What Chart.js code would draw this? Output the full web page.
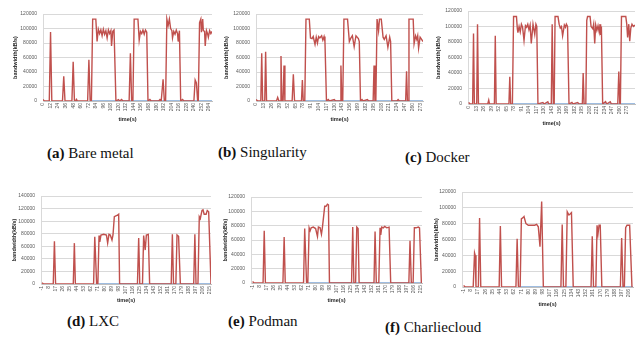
<!DOCTYPE html>
<html>
<head>
<meta charset="utf-8">
<script src="https://cdn.jsdelivr.net/npm/chart.js@4.4.0/dist/chart.umd.min.js"></script>
<style>
  body { margin: 0; width: 640px; height: 348px; background: #fff; position: relative; overflow: hidden; }
  canvas { position: absolute; }
  .cap { position: absolute; font-family: "Liberation Serif", "DejaVu Serif", serif; font-size: 15px; line-height: 16px; color: #111; white-space: nowrap; }
</style>
</head>
<body>
<div class="cap" style="left:47px;top:145px"><b>(a)</b> Bare metal</div>
<div class="cap" style="left:218px;top:144px"><b>(b)</b> Singularity</div>
<div class="cap" style="left:405px;top:149px"><b>(c)</b> Docker</div>
<div class="cap" style="left:67px;top:313px"><b>(d)</b> LXC</div>
<div class="cap" style="left:228px;top:313px"><b>(e)</b> Podman</div>
<div class="cap" style="left:385px;top:319px"><b>(f)</b> Charliecloud</div>
<canvas id="chartA"></canvas>
<canvas id="chartB"></canvas>
<canvas id="chartC"></canvas>
<canvas id="chartD"></canvas>
<canvas id="chartE"></canvas>
<canvas id="chartF"></canvas>
<script>
// tick labels
var ticksA = [0, 12, 24, 36, 48, 60, 72, 84, 96, 108, 120, 132, 144, 156, 168, 180, 192, 204, 216, 228, 240, 252, 264];
var ticksB = [0, 13, 26, 39, 52, 65, 78, 91, 104, 117, 130, 143, 156, 169, 182, 195, 208, 221, 234, 247, 260, 273];
var ticksC = [0, 13, 26, 39, 52, 65, 78, 91, 104, 117, 130, 143, 156, 169, 182, 195, 208, 221, 234, 247, 260, 273];
var ticksD = [-1, 8, 17, 26, 35, 44, 53, 62, 71, 80, 89, 98, 107, 116, 125, 134, 143, 152, 161, 170, 179, 188, 197, 206, 215];
var ticksE = [-1, 8, 17, 26, 35, 44, 53, 62, 71, 80, 89, 98, 107, 116, 125, 134, 143, 152, 161, 170, 179, 188, 197, 206, 215];
var ticksF = [-1, 8, 17, 26, 35, 44, 53, 62, 71, 80, 89, 98, 107, 116, 125, 134, 143, 152, 161, 170, 179, 188, 197, 206];
var yTicks120 = [0, 20000, 40000, 60000, 80000, 100000, 120000];
var yTicks140 = [0, 20000, 40000, 60000, 80000, 100000, 120000, 140000];

// (a) Bare metal
var timeA = [0, 2, 10, 12, 14, 31, 33, 35, 46, 48, 50, 52, 53, 54, 71, 73, 75, 77, 79, 84,
  86, 88, 90, 92, 94, 96, 98, 100, 102, 104, 106, 108, 109, 111, 113, 116, 120, 122, 125, 127,
  137, 139, 141, 143, 145, 151, 153, 155, 157, 159, 161, 163, 165, 167, 170, 172, 184, 186, 188, 189,
  191, 193, 195, 197, 199, 201, 203, 205, 206, 208, 210, 212, 214, 215, 217, 219, 222, 224, 240, 242,
  244, 246, 247, 249, 251, 252, 254, 255, 257, 258, 260, 262, 263, 265, 267, 269];
var bwA = [2000, 0, 0, 95000, 0, 0, 34000, 0, 0, 54000, 0, 0, 2000, 0, 0, 57000, 0, 0, 113000, 113000,
  82000, 99000, 93000, 98000, 90000, 99000, 92000, 97000, 87000, 98000, 93000, 97000, 76000, 96000, 98000, 0, 2000, 0, 2000, 0,
  0, 66000, 0, 0, 113000, 113000, 84000, 96000, 93000, 98000, 92000, 98000, 95000, 0, 2000, 0, 0, 2000, 0, 0,
  30000, 0, 0, 113000, 104000, 113000, 100000, 97000, 87000, 96000, 92000, 98000, 93000, 82000, 97000, 0, 2000, 0, 0, 29000,
  25000, 0, 0, 108000, 113000, 95000, 113000, 97000, 96000, 76000, 97000, 92000, 88000, 97000, 93000, 96000];
var idleA = [77, 269];

// (b) Singularity
var timeB = [0, 3, 8, 9.5, 11, 14.5, 16, 17.5, 34, 36, 38, 40, 41.5, 43, 45, 46.5, 48, 60, 62, 64,
  75.5, 77, 78.5, 81, 83, 88.5, 90.5, 93, 95, 98, 100, 102, 104, 106, 109, 111, 113, 114.5, 117, 120,
  122, 130, 132, 139.5, 141, 142.5, 144, 146, 152, 155, 157, 160, 163, 166, 170, 171.5, 173.5, 176, 178, 185,
  187, 194.5, 196, 197.5, 199, 201, 203.5, 205, 208, 211, 213, 216, 219, 222, 223.5, 225.5, 234, 236, 238, 248.5,
  250, 251.5, 252.5, 254, 261, 262.5, 265, 267, 268.5, 270, 272.5, 275, 277.3];
var bwB = [2000, 0, 0, 66000, 0, 0, 68000, 0, 0, 5000, 0, 0, 62000, 0, 0, 49000, 0, 0, 37000, 0,
  0, 29000, 0, 0, 113000, 113000, 87000, 86000, 89000, 78000, 88000, 80000, 89000, 87000, 90000, 84000, 89000, 82000, 0, 2000,
  0, 2000, 0, 0, 49000, 0, 0, 113000, 113000, 82000, 86000, 90000, 75000, 90000, 86000, 82000, 0, 2000, 0, 2000,
  0, 0, 49000, 0, 0, 113000, 97000, 113000, 113000, 88000, 85000, 90000, 74000, 88000, 82000, 0, 0, 2000, 0, 0,
  41000, 0, 0, 113000, 113000, 79000, 90000, 85000, 90000, 73000, 88000, 85000, 82000];
var idleB = [81, 277.3];

// (c) Docker
var timeC = [0, 3, 7, 8.5, 10, 14, 15.4, 17, 33, 34.7, 36, 44.5, 46, 47.5, 69.5, 71, 72.5, 75.5, 77.5, 82.5,
  84, 85, 87, 89, 91, 93, 95.5, 98, 100, 102, 104, 106, 108, 111, 114, 116, 117.5, 119.5, 128, 130,
  136.5, 138, 142.5, 144, 146, 147.5, 149, 154, 156, 158, 160, 162, 165, 167, 168.5, 170.5, 173, 178, 180, 188,
  190, 196, 197.4, 199, 202, 203.6, 205, 209.3, 211, 214, 215.5, 217.3, 219, 221, 223, 225, 226.5, 227.5, 228.8, 231,
  236, 238, 244, 246, 257, 258.8, 260.5, 261.5, 263.4, 270.8, 272.5, 274, 276, 277.6, 279.5, 281.5, 284, 286.7];
var bwC = [2000, 0, 0, 91000, 0, 0, 103000, 0, 0, 5000, 0, 0, 88000, 0, 0, 35000, 0, 0, 113000, 113000,
  97000, 92000, 100000, 93000, 103000, 99000, 82000, 101000, 99000, 103000, 96000, 102000, 78000, 103000, 90000, 103000, 100000, 0, 2000, 0,
  3000, 0, 0, 103000, 0, 0, 113000, 113000, 103000, 98000, 100000, 88000, 102000, 99000, 103000, 100000, 0, 2000, 0, 2000,
  0, 0, 40000, 0, 0, 108000, 113000, 113000, 100000, 97000, 103000, 78000, 102000, 95000, 101000, 93000, 103000, 89000, 100000, 0,
  3000, 0, 3000, 0, 0, 42000, 0, 0, 113000, 113000, 103000, 86000, 103000, 81000, 98000, 103000, 100000, 102000];
var idleC = [76, 286.7];

// (d) LXC
var timeD = [-1, 1, 13.5, 15, 16.5, 39.3, 40.7, 42, 65.5, 67, 69.4, 71, 72.5, 73.5, 75, 78.5, 82, 83.6, 85.3, 87,
  89.2, 90.5, 92.2, 93.5, 95.6, 97.8, 99, 122, 123.6, 125, 128.5, 130, 132, 133.5, 136, 137.7, 165.5, 167, 168.5, 171.5,
  173, 175, 177.3, 194.5, 196, 197.5, 200, 201.7, 203, 205.2, 206.5, 208, 210.5, 212, 213.8, 216.8];
var bwD = [2000, 0, 0, 68000, 0, 0, 65000, 0, 0, 75000, 0, 0, 77000, 67000, 78000, 79000, 78000, 65000, 79000, 78000,
  70000, 78000, 107000, 108000, 109000, 111000, 0, 0, 73000, 0, 0, 77000, 54000, 78000, 79000, 0, 0, 79000, 0, 0,
  78000, 76000, 0, 0, 79000, 0, 0, 107000, 104000, 117000, 118000, 111000, 111000, 117000, 115000, 0];
var idleD = [68, 216.8];

// (e) Podman
var timeE = [-1, 1, 12.5, 14, 15.5, 38, 39.6, 41, 64.5, 66, 68.4, 70, 71.7, 73, 74.3, 77, 80, 82.4, 83.6, 85.8,
  87.5, 88.8, 91.7, 93.4, 95.2, 96.5, 97.8, 126.2, 127.7, 129.2, 131.4, 132.9, 134.6, 135.9, 155, 156.4, 158, 161.2, 162.8, 163.7,
  165, 167, 168.8, 171.4, 174.4, 176.5, 199.8, 201.3, 203, 205.3, 206.9, 209, 212, 213.5, 215.9];
var bwE = [2000, 0, 0, 73000, 0, 0, 64000, 0, 0, 76000, 0, 0, 77000, 73000, 77000, 78000, 76000, 65000, 78000, 77000,
  68000, 78000, 107000, 107000, 110000, 109000, 0, 0, 78000, 0, 0, 78000, 76000, 0, 0, 72000, 0, 0, 77000, 67000,
  78000, 77000, 79000, 77000, 78000, 0, 0, 59000, 0, 0, 77000, 77000, 78000, 77000, 0];
var idleE = [69, 216.7];

// (f) Charliecloud
var timeF = [-1, 1, 11, 12.7, 13.5, 14.5, 17.5, 19, 20.5, 43.5, 45, 46.5, 64.5, 66, 67.6, 69.8, 71.3, 73.8, 74.6, 77,
  80, 84, 88, 90.4, 92.5, 94.6, 96.7, 98.8, 120.8, 122.4, 124, 127, 128.7, 130.8, 132, 134, 136.2, 158.5, 160, 161.6,
  164.5, 166, 167.2, 168.5, 170, 172, 195.2, 196.8, 198.5, 200.2, 201.8, 203.5, 206.8, 209.7];
var bwF = [2000, 0, 0, 43000, 40000, 0, 0, 87000, 0, 0, 77000, 0, 0, 61000, 0, 0, 86000, 88000, 89000, 80000,
  78000, 78000, 78000, 79000, 76000, 51000, 108000, 0, 0, 79000, 0, 0, 95000, 91000, 92000, 94000, 0, 0, 64000, 0,
  0, 78000, 67000, 78000, 78000, 0, 0, 62000, 0, 0, 75000, 78000, 78000, 0];
var idleF = [70, 211];

function makeChart(id, box, time, bw, idle, xTicks, xMin, xMax, yTicks) {
    var cx = Math.round(box.titleX - 3.5);
    var cy = Math.round(box.top) - 4;
    var w = Math.round(box.right) + 2 - cx;
    var h = Math.round(box.timeY + 3.5) - cy;
    var yw = Math.round(box.left) - cx;
    var xh = cy + h - Math.round(box.bottom);

    var cv = document.getElementById(id);
    cv.width = w;
    cv.height = h;
    cv.style.left = cx + 'px';
    cv.style.top = cy + 'px';

    var points = time.map(function (t, i) { return {x: t, y: bw[i]}; });
    var flat = idle.map(function (t) { return {x: t, y: 0}; });

    return new Chart(cv.getContext('2d'), {
        type: 'line',
        data: {
            datasets: [{
                data: points,
                borderColor: '#c0504d',
                borderWidth: 1.4,
                pointRadius: 0,
                tension: 0
            }, {
                data: flat,
                borderColor: '#7ea6d6',
                borderWidth: 1.6,
                pointRadius: 0
            }]
        },
        options: {
            responsive: false,
            animation: false,
            events: [],
            layout: {padding: {top: 4, right: 2, left: 0, bottom: 0}},
            plugins: {legend: {display: false}, tooltip: {enabled: false}},
            scales: {
                x: {
                    type: 'linear',
                    min: xMin,
                    max: xMax,
                    afterBuildTicks: function (s) { s.ticks = xTicks.map(function (v) { return {value: v}; }); },
                    afterFit: function (s) { s.height = xh; s.paddingLeft = 0; s.paddingRight = 0; },
                    grid: {display: false, drawTicks: false},
                    border: {display: true, color: '#bfbfbf', width: 1},
                    ticks: {
                        autoSkip: false, minRotation: 90, maxRotation: 90, padding: 2,
                        color: '#595959', font: {family: 'Liberation Sans', size: 5},
                        callback: function (v) { return String(v); }
                    },
                    title: {
                        display: true, text: 'time(s)', color: '#262626', padding: 0,
                        font: {family: 'Liberation Sans', size: 5.5, weight: 'bold'}
                    }
                },
                y: {
                    min: 0,
                    max: yTicks[yTicks.length - 1],
                    afterBuildTicks: function (s) { s.ticks = yTicks.map(function (v) { return {value: v}; }); },
                    afterFit: function (s) { s.width = yw; s.paddingTop = 0; s.paddingBottom = 0; },
                    grid: {color: '#d9d9d9', lineWidth: 1, drawTicks: false},
                    border: {display: true, color: '#d9d9d9', width: 1},
                    ticks: {
                        padding: 6, color: '#595959', font: {family: 'Liberation Sans', size: 5},
                        callback: function (v) { return String(v); }
                    },
                    title: {
                        display: true, text: 'bandwidth(kB/s)', color: '#262626', padding: 0,
                        font: {family: 'Liberation Sans', size: 5.5, weight: 'bold'}
                    }
                }
            }
        }
    });
}

makeChart('chartA', {left: 43.3, top: 14, right: 212.3, bottom: 101, titleX: 15, timeY: 119}, timeA, bwA, idleA, ticksA, 0, 268.8, yTicks120);
makeChart('chartB', {left: 256, top: 14, right: 423.3, bottom: 101, titleX: 226.5, timeY: 119}, timeB, bwB, idleB, ticksB, 0, 277.3, yTicks120);
makeChart('chartC', {left: 467.7, top: 10.7, right: 635, bottom: 104, titleX: 438.5, timeY: 123}, timeC, bwC, idleC, ticksC, -1, 286.7, yTicks120);
makeChart('chartD', {left: 40.7, top: 195.7, right: 210.7, bottom: 284, titleX: 14.5, timeY: 300.7}, timeD, bwD, idleD, ticksD, -2.3, 216.8, yTicks140);
makeChart('chartE', {left: 250.7, top: 196.7, right: 422, bottom: 283.3, titleX: 225.5, timeY: 300}, timeE, bwE, idleE, ticksE, -3, 216.7, yTicks120);
makeChart('chartF', {left: 461.7, top: 192.3, right: 633.3, bottom: 286.7, titleX: 436.5, timeY: 304}, timeF, bwF, idleF, ticksF, -3, 211, yTicks120);
</script>
</body>
</html>
